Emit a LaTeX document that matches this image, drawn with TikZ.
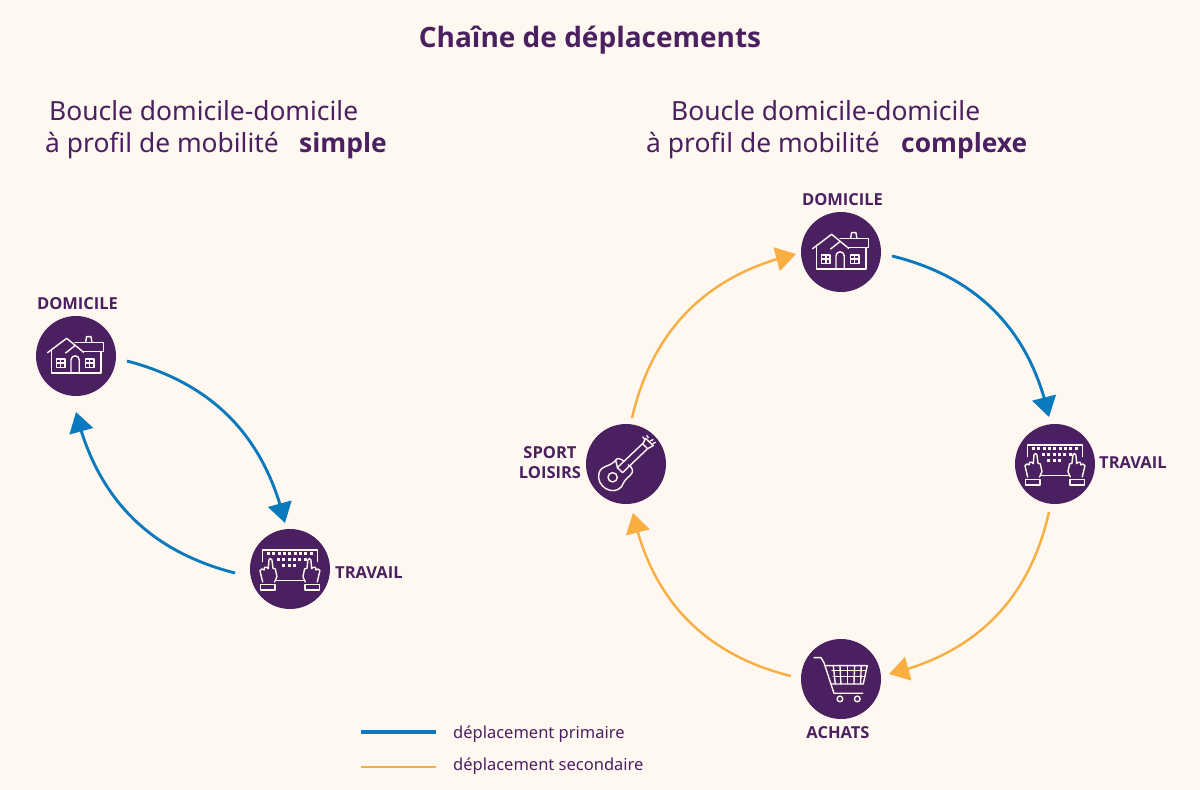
\documentclass[tikz,border=0pt]{standalone}
\usepackage{fontspec}
\setmainfont{Noto Sans}
\newfontfamily\hvy{Open Sans}
\usetikzlibrary{arrows.meta,bending}
\definecolor{bgc}{HTML}{FFF8F0}
\definecolor{purp}{HTML}{4B2060}
\definecolor{bluec}{HTML}{0A79BD}
\definecolor{orc}{HTML}{F9AE42}
\tikzset{
  disc/.style={circle,fill=purp,minimum size=80pt,inner sep=0pt},
  ico/.style={draw=bgc,line width=1.4pt,line join=round,line cap=round},
  lab/.style={text=purp,font=\hvy\bfseries\fontsize{16.5}{20}\selectfont,align=center,inner sep=0pt},
  head/.style={text=purp,font=\fontsize{26.4}{32}\selectfont,anchor=base west,inner sep=0pt},
  heavy/.style={text=purp,font=\hvy\bfseries\fontsize{26.4}{32}\selectfont,anchor=base west,inner sep=0pt},
  leg/.style={text=purp,font=\fontsize{16.5}{20}\selectfont,anchor=west,inner sep=0pt},
  prim/.style={draw=bluec,line width=2.9pt},
  sec/.style={draw=orc,line width=2.4pt},
  prima/.style={prim,-{Triangle[length=20pt,width=24pt,flex]}},
  seca/.style={sec,-{Triangle[length=20pt,width=24pt,flex]}},
}
% icons: zoom coordinates /3
\newcommand{\houseicon}[1]{\begin{scope}[shift={(#1)},ico,x=0.333pt,y=-0.333pt,xshift=-51pt,yshift=52pt]
 \draw (68,146)--(125,103)--(176,145);
 \draw (122,147)--(150,125);
 \draw (80,136)--(80,207)--(228,207)--(228,143);
 \draw (150,115)--(236,115)--(236,143)--(174,143);
 \draw (182,115)--(185,98)--(198,98)--(201,115);
 \draw (138,207)--(138,168) arc[start angle=180,end angle=360,radius=12.5]--(163,207);
 \foreach \x in {95,182}{\draw (\x,165) rectangle (\x+25,190);
   \draw (\x,177)--(\x+25,177) (\x+12.5,165)--(\x+12.5,190);}
\end{scope}}
\newcommand{\handshape}{\draw (68,186)--(60,152)--(66,147)--(72,150)--(74,142)--(80,142)--(85,146)--(87,120) arc[start angle=180,end angle=360,radius=4.5]--(99,145)--(106,147)--(111,170)--(104,186);
 \draw (62,193) rectangle (105,210);}
\newcommand{\kbicon}[1]{\begin{scope}[shift={(#1)},ico,x=0.333pt,y=-0.333pt,xshift=-50pt,yshift=49pt]
 \draw (68,125)--(68,90)--(232,90)--(232,125);
 \draw (108,182)--(190,182);
 \foreach \x in {86,102,...,216}{\fill[bgc,draw=none] (\x-4.5,97.5) rectangle (\x+4.5,106.5);}
 \foreach \x in {116,132,...,200}{\fill[bgc,draw=none] (\x-4.5,115.5) rectangle (\x+4.5,124.5);}
 \foreach \x in {132,148,164}{\fill[bgc,draw=none] (\x-4.5,132.5) rectangle (\x+4.5,141.5);}
 \handshape
 \begin{scope}[shift={(300,0)},xscale=-1]
 \handshape
 \end{scope}
\end{scope}}
\newcommand{\guitaricon}[1]{\begin{scope}[shift={(#1)},ico,x=0.333pt,y=-0.333pt,xshift=-51pt,yshift=49pt]
 \draw (113,187) circle[radius=14];
 \draw (128,160) -- (122,136) .. controls (100,160) and (80,148) .. (72,175) .. controls (62,215) and (115,245) .. (140,215)
   .. controls (150,195) and (150,195) .. (165,182) .. controls (178,170) and (174,158) .. (160,150);
 \draw (122,136) .. controls (126,128) and (135,130) .. (146,138);
 \draw (127,158)--(203,86)--(218,101)--(143,173)--cycle;
 \draw (204,86)--(212,70)--(235,92)--(218,101);
 \draw (208,72)--(204,66) (220,68)--(216,62) (226,78)--(234,74) (234,86)--(241,82);
\end{scope}}
\newcommand{\carticon}[1]{\begin{scope}[shift={(#1)},ico,x=0.333pt,y=-0.333pt,xshift=-51pt,yshift=49pt]
 \draw (72,83)--(93,83)--(102,98)--(132,190)--(218,190);
 \draw (108,107)--(232,107)--(220,162)--(124,162);
 \draw (126,122)--(228,122) (130,140)--(224,140);
 \foreach \x/\y in {130/136,150/153,172/172,194/192,214/212}{\draw (\x,107)--(\y,162);}
 \draw (150,207) circle[radius=8.5] (202,207) circle[radius=8.5];
\end{scope}}
\begin{document}
\begin{tikzpicture}[x=1pt,y=-1pt]
\useasboundingbox (0,0) rectangle (1200,790);
\fill[bgc] (0,0) rectangle (1200,790);
\node[text=purp,font=\hvy\bfseries\fontsize{28}{34}\selectfont,inner sep=0pt] (title) at (590,40) {Chaîne de déplacements};
\node[head] (h1a) at (49,120) {Boucle domicile-domicile};
\node[head] (h1b) at (45,152) {à profil de mobilité};
\node[heavy] (h1c) at (299,152) {simple};
\node[head] (h2a) at (671,120) {Boucle domicile-domicile};
\node[head] (h2b) at (646,152) {à profil de mobilité};
\node[heavy] (h2c) at (901,152) {complexe};
% left
\node[disc] (d1) at (76,356) {};
\node[disc] (t1) at (290,569) {};
\houseicon{76,356}\kbicon{290,569}
\node[lab] (ld1) at (77.5,304) {DOMICILE};
\node[lab,anchor=west] (lt1) at (335,573) {TRAVAIL};
\coordinate (a1s) at (127,361);
\coordinate (a1e) at (285,523);
\coordinate (a2s) at (235,573);
\coordinate (a2e) at (76,412);
\draw[prima] (a1s) to[bend left=31] (a1e);
\draw[prima] (a2s) to[bend left=31] (a2e);
% right
\node[disc] (d2) at (841,252) {};
\node[disc] (t2) at (1055,464) {};
\node[disc] (a2) at (841,679) {};
\node[disc] (s2) at (626,464) {};
\houseicon{841,252}\kbicon{1055,464}\carticon{841,679}\guitaricon{626,464}
\node[lab] (ld2) at (842.5,200) {DOMICILE};
\node[lab,anchor=west] (lt2) at (1099,463) {TRAVAIL};
\node[lab] (la2) at (838,733) {ACHATS};
\node[lab] (ls2) at (550,463) {SPORT\\LOISIRS};
\coordinate (b1s) at (892,256);
\coordinate (b1e) at (1049,417);
\coordinate (b2s) at (1049,512);
\coordinate (b2e) at (889,674);
\coordinate (b3s) at (791,676);
\coordinate (b3e) at (633,513);
\coordinate (b4s) at (632,418);
\coordinate (b4e) at (796,254);
\draw[prima] (b1s) to[bend left=32] (b1e);
\draw[seca] (b2s) to[bend left=32] (b2e);
\draw[seca] (b3s) to[bend left=32] (b3e);
\draw[seca] (b4s) to[bend left=32] (b4e);
% legend
\coordinate (l1s) at (361,732);\coordinate (l1e) at (436,732);
\coordinate (l2s) at (361,767);\coordinate (l2e) at (436,767);
\draw[prim,line width=3.6pt] (l1s)--(l1e);
\draw[sec,line width=2.8pt] (l2s)--(l2e);
\node[leg] (tl1) at (453,734) {déplacement primaire};
\node[leg] (tl2) at (453,766) {déplacement secondaire};
\end{tikzpicture}
\end{document}
